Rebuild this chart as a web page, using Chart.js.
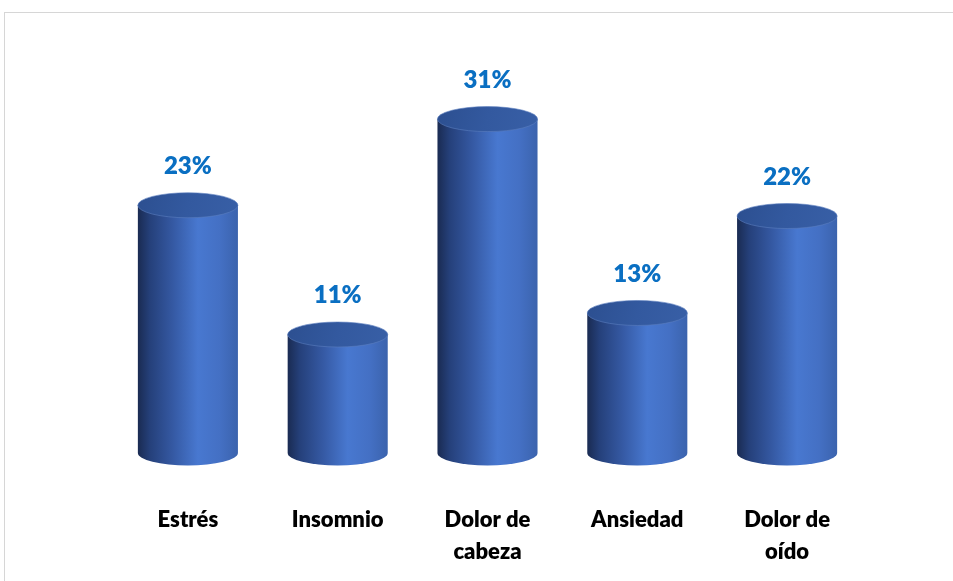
<!DOCTYPE html>
<html>
<head>
<meta charset="utf-8">
<script src="https://cdn.jsdelivr.net/npm/chart.js@4.4.1/dist/chart.umd.min.js"></script>
<style>
  html, body { margin: 0; padding: 0; background: #fff; overflow: hidden; }
  #wrap { position: absolute; left: 0; top: 0; width: 953px; height: 581px; }
  #marco { position: absolute; left: 4px; top: 12px; width: 1000px; height: 1000px;
           border: 1px solid #d6d6d6; pointer-events: none; }
</style>
</head>
<body>
<div id="wrap">
  <canvas id="grafico" width="953" height="581"></canvas>
</div>
<div id="marco"></div>
<script>
// categorias y porcentajes
const categorias = ['Estrés', 'Insomnio', ['Dolor de', 'cabeza'], 'Ansiedad', ['Dolor de', 'oído']];
const porcentajes = [23, 11, 31, 13, 22];
const ejeMax = 35;

const azulTexto = '#0a6fc2';
const ry = 12.5; // alto de la elipse del cilindro

// dibuja cada barra como cilindro
const cilindros = {
  id: 'cilindros',
  afterDatasetsDraw(chart) {
    const ctx = chart.ctx;
    const meta = chart.getDatasetMeta(0);
    meta.data.forEach((bar, i) => {
      const x = bar.x, top = bar.y, base = bar.base, w = bar.width;
      const rx = w / 2;
      const izq = x - rx, der = x + rx;

      const grad = ctx.createLinearGradient(izq, 0, der, 0);
      grad.addColorStop(0, '#1a2b52');
      grad.addColorStop(0.12, '#25407a');
      grad.addColorStop(0.35, '#3559a3');
      grad.addColorStop(0.6, '#4878d0');
      grad.addColorStop(0.82, '#4470c4');
      grad.addColorStop(1, '#3b63ad');

      ctx.save();
      // cuerpo + media elipse inferior
      ctx.beginPath();
      ctx.moveTo(izq, top);
      ctx.lineTo(izq, base);
      ctx.ellipse(x, base, rx, ry, 0, Math.PI, 0, true);
      ctx.lineTo(der, top);
      ctx.closePath();
      ctx.fillStyle = grad;
      ctx.fill();

      // tapa superior
      const gTapa = ctx.createLinearGradient(izq, top - ry, der, top + ry);
      gTapa.addColorStop(0, '#2c4f90');
      gTapa.addColorStop(0.5, '#33599f');
      gTapa.addColorStop(1, '#385fa6');
      ctx.beginPath();
      ctx.ellipse(x, top, rx, ry, 0, 0, Math.PI * 2);
      ctx.fillStyle = gTapa;
      ctx.fill();
      ctx.lineWidth = 1;
      ctx.strokeStyle = 'rgba(90,125,190,0.6)';
      ctx.stroke();

      // etiqueta de valor
      ctx.font = '800 24px Lato';
      ctx.fillStyle = azulTexto;
      ctx.textAlign = 'center';
      ctx.textBaseline = 'middle';
      ctx.fillText(porcentajes[i] + '%', x, top - 39);
      ctx.restore();
    });
  }
};

new Chart(document.getElementById('grafico').getContext('2d'), {
  type: 'bar',
  data: {
    labels: categorias,
    datasets: [{
      data: porcentajes,
      backgroundColor: 'rgba(0,0,0,0)',
      borderWidth: 0,
      barPercentage: 0.668,
      categoryPercentage: 1
    }]
  },
  options: {
    responsive: false,
    animation: false,
    events: [],
    layout: { padding: { top: 76, left: 113, right: 91, bottom: 0 } },
    plugins: { legend: { display: false }, tooltip: { enabled: false } },
    scales: {
      y: { display: false, min: 0, max: ejeMax },
      x: {
        grid: { display: false, drawTicks: false },
        border: { display: false },
        afterFit(scale) { scale.height = 128; },
        ticks: {
          color: '#000',
          padding: 51,
          font: { family: 'Lato', weight: '800', size: 22, lineHeight: 1.45 }
        }
      }
    }
  },
  plugins: [cilindros]
});
</script>
</body>
</html>
